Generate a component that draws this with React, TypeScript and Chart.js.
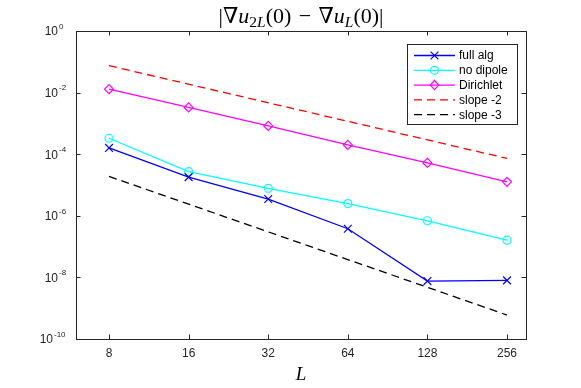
import React, { useEffect, useRef } from 'react';
import { Chart, registerables } from 'chart.js';

Chart.register(...registerables);

// ---- data ----
const L_VALUES = [8, 16, 32, 64, 128, 256];
const FULL_ALG = [1.6e-4, 1.8e-5, 3.5e-6, 3.8e-7, 7.6e-9, 8.0e-9];
const NO_DIPOLE = [3.3e-4, 2.7e-5, 7.8e-6, 2.5e-6, 6.9e-7, 1.62e-7];
const DIRICHLET = [1.29e-2, 3.3e-3, 8.3e-4, 2.0e-4, 5.2e-5, 1.27e-5];
const SLOPE_L = [8, 256];
const SLOPE2 = [7.5e-2, 7.3e-5];
const SLOPE3 = [1.9e-5, 6.0e-10];
const X_TICKS = [8, 16, 32, 64, 128, 256];
const Y_TICKS = [1e0, 1e-2, 1e-4, 1e-6, 1e-8, 1e-10];
const Y_TICK_EXP = ['0', '-2', '-4', '-6', '-8', '-10'];
const SERIES_NAMES = ['full alg', 'no dipole', 'Dirichlet', 'slope -2', 'slope -3'];
const X_LABEL = 'L';

const SANS = '"Liberation Sans", Arial, Helvetica, sans-serif';
const SERIF = '"Liberation Serif", "DejaVu Serif", serif';
const AXIS_COLOR = '#262626';

const STYLES = [
  { color: '#0000ff', dash: [] as number[], marker: 'x' },
  { color: '#00ffff', dash: [] as number[], marker: 'o' },
  { color: '#ff00ff', dash: [] as number[], marker: 'd' },
  { color: '#ff0000', dash: [8, 5], marker: '' },
  { color: '#000000', dash: [8, 5], marker: '' },
];

function pts(xs: number[], ys: number[]) {
  return xs.map((x, i) => ({ x, y: ys[i] }));
}

function drawMarker(ctx: CanvasRenderingContext2D, kind: string, x: number, y: number, color: string) {
  ctx.save();
  ctx.strokeStyle = color;
  ctx.lineWidth = 1.2;
  ctx.setLineDash([]);
  ctx.beginPath();
  if (kind === 'x') {
    const r = 3.9;
    ctx.moveTo(x - r, y - r); ctx.lineTo(x + r, y + r);
    ctx.moveTo(x - r, y + r); ctx.lineTo(x + r, y - r);
  } else if (kind === 'o') {
    ctx.arc(x, y, 4, 0, Math.PI * 2);
  } else if (kind === 'd') {
    ctx.moveTo(x, y - 4.6); ctx.lineTo(x + 4.2, y); ctx.lineTo(x, y + 4.6); ctx.lineTo(x - 4.2, y); ctx.closePath();
  }
  ctx.stroke();
  ctx.restore();
}

const framePlugin = {
  id: 'matlabFrame',
  afterDraw(chart: any) {
    const ctx: CanvasRenderingContext2D = chart.ctx;
    const { left, right, top, bottom } = chart.chartArea;
    const xs = chart.scales.x;
    const ys = chart.scales.y;
    ctx.save();
    // box
    ctx.strokeStyle = AXIS_COLOR;
    ctx.lineWidth = 1;
    ctx.setLineDash([]);
    ctx.strokeRect(Math.round(left) + 0.5, Math.round(top) + 0.5, Math.round(right - left), Math.round(bottom - top));
    // ticks inward
    const tl = 4.5;
    ctx.beginPath();
    X_TICKS.forEach((v) => {
      const px = Math.round(xs.getPixelForValue(v)) + 0.5;
      ctx.moveTo(px, bottom); ctx.lineTo(px, bottom - tl);
      ctx.moveTo(px, top); ctx.lineTo(px, top + tl);
    });
    Y_TICKS.forEach((v) => {
      const py = Math.round(ys.getPixelForValue(v)) + 0.5;
      ctx.moveTo(left, py); ctx.lineTo(left + tl, py);
      ctx.moveTo(right, py); ctx.lineTo(right - tl, py);
    });
    ctx.stroke();

    // y tick labels with superscripts
    ctx.fillStyle = AXIS_COLOR;
    ctx.textBaseline = 'middle';
    Y_TICKS.forEach((v, i) => {
      const py = ys.getPixelForValue(v);
      const exp = Y_TICK_EXP[i];
      ctx.font = `12px ${SANS}`;
      const baseRight = exp.length > 2 ? 53 : 58;
      ctx.textAlign = 'right';
      ctx.fillText('10', baseRight, py + 1);
      ctx.textAlign = 'left';
      ctx.font = `8px ${SANS}`;
      ctx.fillText(exp, baseRight + 1, py - 4.5);
    });

    // x label
    ctx.font = `italic 19px ${SERIF}`;
    ctx.textAlign = 'center';
    ctx.textBaseline = 'alphabetic';
    ctx.fillStyle = '#000';
    ctx.fillText(X_LABEL, (left + right) / 2, 380);

    // title
    const big = 22, sub = 15.5;
    const parts = [
      { t: '|∇', f: `${big}px ${SERIF}`, dy: 0 },
      { t: 'u', f: `italic ${big}px ${SERIF}`, dy: 0 },
      { t: '2', f: `${sub}px ${SERIF}`, dy: 4 },
      { t: 'L', f: `italic ${sub}px ${SERIF}`, dy: 4 },
      { t: '(0)\u2004−\u2004∇', f: `${big}px ${SERIF}`, dy: 0 },
      { t: 'u', f: `italic ${big}px ${SERIF}`, dy: 0 },
      { t: 'L', f: `italic ${sub}px ${SERIF}`, dy: 4 },
      { t: '(0)|', f: `${big}px ${SERIF}`, dy: 0 },
    ];
    let total = 0;
    const widths = parts.map((p) => { ctx.font = p.f; const w = ctx.measureText(p.t).width; total += w; return w; });
    let cx = (left + right) / 2 - total / 2;
    ctx.textAlign = 'left';
    parts.forEach((p, i) => {
      ctx.font = p.f;
      ctx.fillText(p.t, cx, 23 + p.dy);
      cx += widths[i];
    });

    // legend
    const bx = 407.5, by = 44.5, bw = 110, bh = 80;
    ctx.fillStyle = '#ffffff';
    ctx.fillRect(bx, by, bw, bh);
    ctx.strokeStyle = AXIS_COLOR;
    ctx.lineWidth = 1;
    ctx.strokeRect(bx, by, bw, bh);
    SERIES_NAMES.forEach((name, i) => {
      const st = STYLES[i];
      const y = 55.5 + i * 14.8;
      ctx.strokeStyle = st.color;
      ctx.lineWidth = 1.3;
      ctx.setLineDash(st.dash);
      ctx.beginPath();
      ctx.moveTo(414, y); ctx.lineTo(455, y);
      ctx.stroke();
      ctx.setLineDash([]);
      if (st.marker) drawMarker(ctx, st.marker, 434.5, y, st.color);
      ctx.fillStyle = '#000';
      ctx.font = `12px ${SANS}`;
      ctx.textBaseline = 'middle';
      ctx.textAlign = 'left';
      ctx.fillText(name, 459, y + 0.5);
    });
    ctx.restore();
  },
};

export default function App() {
  const ref = useRef<HTMLCanvasElement>(null);
  useEffect(() => {
    document.body.style.margin = '0';
    const canvas = ref.current!;
    const chart = new Chart(canvas, {
      type: 'line',
      data: {
        datasets: [
          {
            label: SERIES_NAMES[0], data: pts(L_VALUES, FULL_ALG), borderColor: STYLES[0].color,
            borderWidth: 1.3, pointStyle: 'crossRot', pointRadius: 5.5, pointBorderWidth: 1.2,
            pointBorderColor: STYLES[0].color, pointBackgroundColor: 'rgba(0,0,0,0)',
          },
          {
            label: SERIES_NAMES[1], data: pts(L_VALUES, NO_DIPOLE), borderColor: STYLES[1].color,
            borderWidth: 1.3, pointStyle: 'circle', pointRadius: 4, pointBorderWidth: 1.2,
            pointBorderColor: STYLES[1].color, pointBackgroundColor: 'rgba(0,0,0,0)',
          },
          {
            label: SERIES_NAMES[2], data: pts(L_VALUES, DIRICHLET), borderColor: STYLES[2].color,
            borderWidth: 1.3, pointStyle: 'rectRot', pointRadius: 4.5, pointBorderWidth: 1.2,
            pointBorderColor: STYLES[2].color, pointBackgroundColor: 'rgba(0,0,0,0)',
          },
          {
            label: SERIES_NAMES[3], data: pts(SLOPE_L, SLOPE2), borderColor: STYLES[3].color,
            borderWidth: 1.3, borderDash: STYLES[3].dash, pointRadius: 0,
          },
          {
            label: SERIES_NAMES[4], data: pts(SLOPE_L, SLOPE3), borderColor: STYLES[4].color,
            borderWidth: 1.3, borderDash: STYLES[4].dash, pointRadius: 0,
          },
        ],
      },
      options: {
        responsive: false,
        animation: false,
        devicePixelRatio: 1,
        layout: { padding: { top: 31, right: 55, bottom: 0, left: 0 } },
        plugins: { legend: { display: false }, title: { display: false }, tooltip: { enabled: false } },
        elements: { line: { tension: 0 } },
        scales: {
          x: {
            type: 'logarithmic',
            min: 6,
            max: 302,
            grid: { display: false, drawTicks: false },
            border: { display: false },
            afterBuildTicks: (s: any) => { s.ticks = X_TICKS.map((v) => ({ value: v })); },
            afterFit: (s: any) => { s.height = 49; s.paddingLeft = 0; s.paddingRight = 0; },
            ticks: {
              autoSkip: false,
              maxRotation: 0,
              padding: 7,
              color: AXIS_COLOR,
              font: { family: SANS, size: 12 },
              callback: (v: any) => String(v),
            },
          },
          y: {
            type: 'logarithmic',
            min: 1e-10,
            max: 1,
            grid: { display: false, drawTicks: false },
            border: { display: false },
            afterBuildTicks: (s: any) => { s.ticks = Y_TICKS.map((v) => ({ value: v })); },
            afterFit: (s: any) => { s.width = 76; s.paddingTop = 0; s.paddingBottom = 0; },
            ticks: { display: false },
          },
        },
      },
      plugins: [framePlugin],
    } as any);
    return () => chart.destroy();
  }, []);
  return (
    <div style={{ width: 581, height: 388, background: '#fff' }}>
      <canvas ref={ref} width={581} height={388} style={{ display: 'block' }} />
    </div>
  );
}
